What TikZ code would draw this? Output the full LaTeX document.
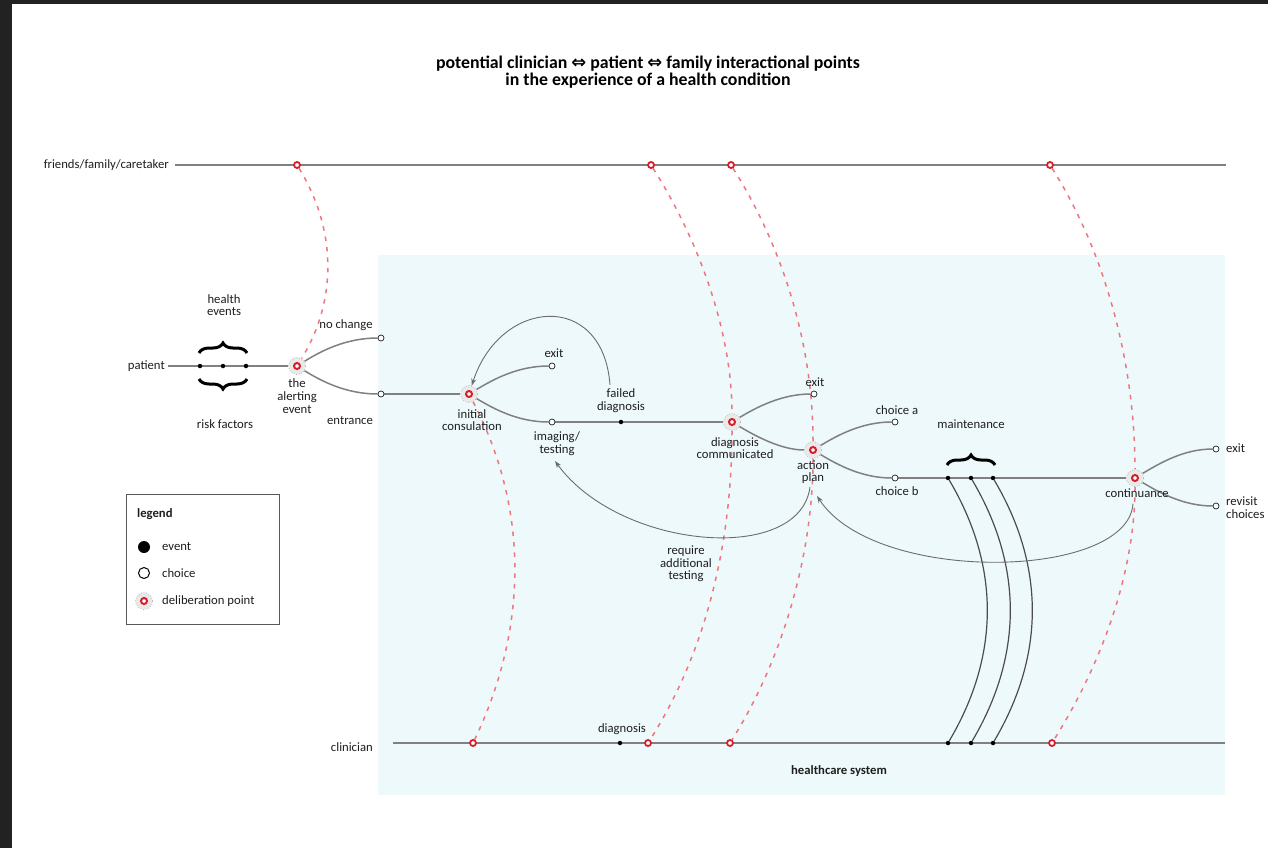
\documentclass[tikz,border=0pt]{standalone}
\usepackage{fontspec}
\setmainfont{Carlito}
\newfontfamily\symfont{DejaVu Sans}
\usetikzlibrary{decorations.pathreplacing,arrows.meta}
\pgfdeclarelayer{back}
\pgfdeclarelayer{bg}
\pgfsetlayers{back,bg,main}
\definecolor{ringred}{RGB}{214,32,44}
\definecolor{dashred}{RGB}{238,118,126}
\definecolor{linegray}{RGB}{128,128,128}
\definecolor{flowgray}{RGB}{128,128,128}
\definecolor{boxblue}{RGB}{238,249,252}
\definecolor{txt}{RGB}{30,30,30}
\definecolor{framedark}{RGB}{34,34,34}
\tikzset{
 lbl/.style={font=\fontsize{12.7}{12.7}\selectfont, align=center, inner sep=0pt, text=txt},
 delib/.style={circle, minimum size=17pt, inner sep=0pt, fill=gray!17, draw=gray!75, dotted, line width=0.6pt,
   path picture={\draw[solid, ringred, line width=2pt, fill=white] (path picture bounding box.center) circle (3pt);}},
 ring/.style={circle, minimum size=6pt, inner sep=0pt, draw=ringred, line width=1.8pt, fill=white},
 choice/.style={circle, minimum size=6pt, inner sep=0pt, draw=txt, line width=0.7pt, fill=white},
 event/.style={circle, minimum size=4.5pt, inner sep=0pt, fill=black},
 mainline/.style={draw=linegray, line width=2.2pt},
 flow/.style={draw=flowgray, line width=1.5pt},
 redarc/.style={draw=dashred, line width=1.5pt, dash pattern=on 4.5pt off 6pt},
 backarrow/.style={draw=gray!85!black, line width=0.9pt, -{Stealth[length=7pt,width=5pt]}},
 maint/.style={draw=gray!60!black, line width=1.2pt},
 bracestyle/.style={decorate, decoration={brace, amplitude=10pt}, line width=3pt, draw=black},
}
\begin{document}
\begin{tikzpicture}[x=1pt,y=-1pt]
\useasboundingbox (0,0) rectangle (1268,848);
\begin{pgfonlayer}{back}
\fill[white] (0,0) rectangle (1268,848);
\fill[framedark] (0,0) rectangle (1268,4);
\fill[framedark] (0,0) rectangle (12,848);
\fill[boxblue] (378,255) rectangle (1225,795);
\end{pgfonlayer}

% title
\node[font=\fontsize{17.8}{17}\selectfont\bfseries, align=center, text=black, inner sep=0pt] (title) at (648,72)
 {potential clinician {\symfont ⇔} patient {\symfont ⇔} family interactional points\\in the experience of a health condition};

% top line
\node[lbl, anchor=east] (fam) at (169,165) {friends/family/caretaker};
\coordinate (famend) at (1226,165);
\node[ring] (t1) at (297,165) {};
\node[ring] (t2) at (651,165) {};
\node[ring] (t3) at (731,165) {};
\node[ring] (t4) at (1050,165) {};

% patient track
\node[lbl, anchor=east] (pat) at (165,366) {patient};
\node[event] (e1) at (200,366) {};
\node[event] (e2) at (223,366) {};
\node[event] (e3) at (246,366) {};
\node[delib] (al) at (297,366) {};
\node[choice] (nc) at (381,338) {};
\node[choice] (en) at (381,394) {};
\node[delib] (ic) at (469,394) {};
\node[choice] (x1) at (552,366) {};
\node[choice] (it) at (552,422) {};
\node[event] (fdd) at (621,422) {};
\node[delib] (dc) at (732,422) {};
\node[choice] (x2) at (814,394) {};
\node[delib] (ap) at (813,450) {};
\node[choice] (ca) at (895,422) {};
\node[choice] (cb) at (895,478) {};
\node[event] (m1) at (948,478) {};
\node[event] (m2) at (971,478) {};
\node[event] (m3) at (993,478) {};
\node[delib] (co) at (1135,478) {};
\node[choice] (x3) at (1216,449) {};
\node[choice] (rv) at (1216,506) {};

% clinician line
\node[lbl, anchor=east] (cli) at (373,747) {clinician};
\coordinate (clistart) at (393,743);
\coordinate (cliend) at (1225,743);
\node[ring] (c1) at (473,743) {};
\node[event] (cd) at (620,743) {};
\node[ring] (c2) at (648,743) {};
\node[ring] (c3) at (730,743) {};
\node[event] (k1) at (948,743) {};
\node[event] (k2) at (971,743) {};
\node[event] (k3) at (993,743) {};
\node[ring] (c4) at (1052,743) {};

% labels
\node[lbl] (he) at (224,305) {health\\events};
\node[lbl] (rf) at (225,424) {risk factors};
\node[lbl] (ncl) at (346,325) {no change};
\node[lbl] (all) at (297,396) {the\\alerting\\event};
\node[lbl] (enl) at (350,421) {entrance};
\node[lbl] (x1l) at (554,353) {exit};
\node[lbl] (fdl) at (621,401) {failed\\diagnosis};
\node[lbl] (icl) at (472,420) {initial\\consulation};
\node[lbl] (itl) at (557,444) {imaging/\\testing};
\node[lbl] (dcl) at (735,448) {diagnosis\\communicated};
\node[lbl] (x2l) at (815,382) {exit};
\node[lbl] (apl) at (813,472) {action\\plan};
\node[lbl] (cal) at (897,410) {choice a};
\node[lbl] (cbl) at (897,491) {choice b};
\node[lbl] (mtl) at (971,424) {maintenance};
\node[lbl] (col) at (1137,493) {continuance};
\node[lbl, anchor=west] (x3l) at (1226,448) {exit};
\node[lbl, anchor=west, align=left] (rvl) at (1226,508) {revisit\\choices};
\node[lbl] (rat) at (686,564) {require\\additional\\testing};
\node[lbl] (cdl) at (622,729) {diagnosis};
\node[lbl, font=\fontsize{12.7}{12.7}\selectfont\bfseries] (hs) at (839,771) {healthcare system};

% legend
\node[draw=gray!70!black, line width=0.9pt, minimum width=153pt, minimum height=130pt, inner sep=0pt, anchor=north west] (leg) at (126,494) {};
\node[lbl, anchor=west, font=\fontsize{12.7}{12.7}\selectfont\bfseries] (legt) at (137,514) {legend};
\node[circle, fill=black, minimum size=12pt, inner sep=0pt] (lge) at (144,547) {};
\node[lbl, anchor=west] (lget) at (162,547) {event};
\node[circle, draw=black, line width=1pt, fill=white, minimum size=11pt, inner sep=0pt] (lgc) at (144,573) {};
\node[lbl, anchor=west] (lgct) at (162,573) {choice};
\node[delib] (lgd) at (144,601) {};
\node[lbl, anchor=west] (lgdt) at (162,601) {deliberation point};

% braces
\draw[bracestyle] (199,353) -- (247,353);
\draw[bracestyle] (247,379) -- (199,379);
\draw[bracestyle] (947,465) -- (995,465);

\begin{pgfonlayer}{bg}
% red deliberation arcs
\draw[redarc] (t1) .. controls +(40,65) and +(40,-65) .. (al);
\draw[redarc] (ic) .. controls +(60,115) and +(55,-115) .. (c1);
\draw[redarc] (t2) .. controls +(48,76) and +(0,-90) .. (dc) .. controls +(0,114) and +(61,-96) .. (c2);
\draw[redarc] (t3) .. controls +(54,86) and +(0,-102) .. (ap) .. controls +(0,102) and +(54,-86) .. (c3);
\draw[redarc] (t4) .. controls +(58,92) and +(0,-109) .. (co) .. controls +(0,94) and +(50,-80) .. (c4);
% main lines
\draw[mainline] ([xshift=6pt]fam.east) -- (famend);
\draw[mainline] (clistart) -- (cliend);
% patient flow
\draw[flow] ([xshift=3pt]pat.east) -- (e1) -- (e2) -- (e3) -- (al);
\draw[flow] (al) .. controls (321,351) and (346,338) .. (nc);
\draw[flow] (al) .. controls (321,381) and (346,394) .. (en);
\draw[flow] (en) -- (ic);
\draw[flow] (ic) .. controls (494,379) and (518,366) .. (x1);
\draw[flow] (ic) .. controls (494,409) and (518,422) .. (it);
\draw[flow] (it) -- (fdd) -- (dc);
\draw[flow] (dc) .. controls (757,407) and (782,394) .. (x2);
\draw[flow] (dc) .. controls (757,437) and (782,450) .. (ap);
\draw[flow] (ap) .. controls (838,435) and (862,422) .. (ca);
\draw[flow] (ap) .. controls (838,465) and (862,478) .. (cb);
\draw[flow] (cb) -- (m1) -- (m2) -- (m3) -- (co);
\draw[flow] (co) .. controls (1160,463) and (1184,449) .. (x3);
\draw[flow] (co) .. controls (1160,493) and (1184,506) .. (rv);
% maintenance to clinician
\draw[maint] (m1) .. controls +(52,88) and +(52,-88) .. (k1);
\draw[maint] (m2) .. controls +(52,88) and +(52,-88) .. (k2);
\draw[maint] (m3) .. controls +(52,88) and +(52,-88) .. (k3);
% feedback arrows
\draw[backarrow] ([xshift=-11pt,yshift=4pt]fdl.north) .. controls (603,290) and (500,298) .. (ic);
\draw[backarrow] ([xshift=-3pt,yshift=-3pt]apl.south) .. controls (800,565) and (620,550) .. ([xshift=-2pt,yshift=-5pt]itl.south);
\draw[backarrow] ([xshift=-4pt,yshift=-6pt]col.south) .. controls (1128,580) and (875,585) .. ([xshift=4pt,yshift=-12pt]apl.south);
\end{pgfonlayer}
\end{tikzpicture}
\end{document}
